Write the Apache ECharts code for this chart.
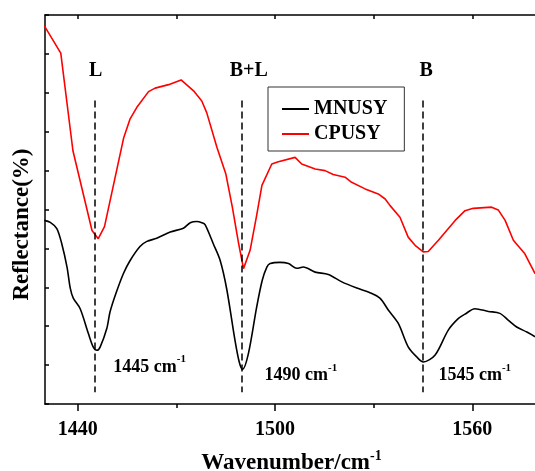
<!DOCTYPE html>
<html>
<head>
<meta charset="utf-8">
<script src="https://cdn.jsdelivr.net/npm/echarts@6/dist/echarts.min.js"></script>
<style>
  html, body { margin: 0; padding: 0; background: #fff; }
  #chart { width: 535px; height: 471px; }
</style>
</head>
<body>
<div id="chart"></div>
<script>
// Reflectance spectra, [wavenumber (cm-1), reflectance (%)]
const mnusy = [
  [1429.8, 47.2], [1431.6, 46.7], [1433.6, 45.1], [1435.1, 41.2], [1436.7, 35.2],
  [1437.7, 29.7], [1438.6, 27.2], [1440.7, 24.5], [1443.2, 18.1], [1444.7, 14.6],
  [1445.8, 13.8], [1446.8, 14.7], [1448.8, 19.4], [1449.8, 23.7], [1451.7, 28.7],
  [1453.9, 33.6], [1455.9, 36.9], [1458.9, 40.5], [1461.0, 41.8], [1464.0, 42.6],
  [1468.1, 44.2], [1472.1, 45.2], [1474.2, 46.6], [1476.2, 46.9], [1477.7, 46.6],
  [1478.7, 46.1], [1481.2, 41.2], [1483.3, 36.9], [1485.3, 29.5], [1487.8, 16.4],
  [1489.1, 10.8], [1490.1, 8.9], [1491.9, 13.0], [1494.4, 24.9], [1496.1, 31.8],
  [1497.5, 35.2], [1498.5, 36.1], [1501.5, 36.4], [1504.1, 36.1], [1506.6, 34.9],
  [1508.6, 35.2], [1512.2, 33.9], [1516.2, 33.3], [1520.3, 31.4], [1524.9, 29.8],
  [1528.9, 28.6], [1531.9, 27.2], [1534.5, 24.1], [1537.5, 20.7], [1540.5, 14.7],
  [1543.1, 12.1], [1545.1, 10.8], [1548.7, 12.6], [1552.7, 19.0], [1555.8, 22.0],
  [1557.8, 23.1], [1560.8, 24.5], [1564.9, 23.8], [1568.4, 23.3], [1571.0, 21.5],
  [1573.5, 19.8], [1576.6, 18.5], [1579.1, 17.3]
];
const cpusy = [
  [1429.8, 97.2], [1434.8, 90.2], [1438.5, 65.1], [1444.3, 44.6], [1446.2, 42.5],
  [1448.1, 45.6], [1453.9, 68.3], [1455.9, 73.3], [1457.9, 76.2], [1461.5, 80.3],
  [1463.5, 81.2], [1467.6, 82.1], [1471.4, 83.3], [1475.2, 80.5], [1477.7, 77.9],
  [1479.2, 74.9], [1482.3, 66.0], [1485.0, 59.2], [1487.0, 50.6], [1488.9, 41.3],
  [1490.4, 34.8], [1492.4, 39.5], [1494.4, 48.5], [1496.0, 56.2], [1499.0, 61.7],
  [1501.0, 62.3], [1506.1, 63.4], [1508.1, 61.7], [1512.2, 60.4], [1515.2, 60.0],
  [1517.7, 59.0], [1521.3, 58.3], [1523.3, 57.0], [1527.4, 55.3], [1531.4, 54.0],
  [1533.5, 52.7], [1535.0, 51.0], [1538.0, 48.0], [1540.5, 42.9], [1542.6, 40.8],
  [1545.1, 39.1], [1546.6, 39.2], [1549.7, 42.1], [1554.8, 47.2], [1557.8, 49.7],
  [1560.3, 50.3], [1565.9, 50.6], [1567.9, 49.9], [1570.0, 47.2], [1572.5, 42.1],
  [1576.0, 38.6], [1579.1, 33.5]
];
const seriesNames = ['MNUSY', 'CPUSY'];

// Band assignments
const bandPositions = [1445, 1490, 1545];
const bandNames = ['L', 'B+L', 'B'];

// Axis ticks
const xLabelTicks = [1440, 1500, 1560];
const xMinorTicks = [1470, 1530];
const xAllTicks = [1440, 1470, 1500, 1530, 1560];

const FONT = '"Liberation Serif", "Times New Roman", serif';
const X_MIN = 1430, X_MAX = 1580;

// annotation placement in data space
const nameY = 85.6;                 // band letters above the dashed guides
const nameX = [1445.4, 1492, 1546];
const guideTop = 78, guideBottom = 3;
const wavenumberLabelPos = [[1450.8, 10.0], [1496.8, 7.9], [1549.7, 7.9]];

const chart = echarts.init(document.getElementById('chart'), null, { renderer: 'canvas' });

const supRich = {
  n: { fontFamily: FONT, fontWeight: 'bold', fontSize: 18, color: '#000', lineHeight: 22, verticalAlign: 'bottom' },
  s: { fontFamily: FONT, fontWeight: 'bold', fontSize: 11, color: '#000', lineHeight: 22, verticalAlign: 'top', padding: [0, 0, 8, 0] }
};

const option = {
  animation: false,
  backgroundColor: '#fff',
  grid: { left: 45, top: 15, right: -3, bottom: 67, containLabel: false, outerBoundsMode: 'none' },
  legend: {
    orient: 'vertical',
    left: 268,
    top: 87,
    data: seriesNames,
    icon: 'rect',
    itemWidth: 27,
    itemHeight: 2,
    itemGap: 5,
    padding: [12, 17, 7, 14],
    borderColor: '#333',
    borderWidth: 1,
    textStyle: { fontFamily: FONT, fontWeight: 'bold', fontSize: 20, color: '#000' }
  },
  xAxis: [
    {
      type: 'value', position: 'bottom', min: X_MIN, max: X_MAX,
      axisLine: { show: true, lineStyle: { color: '#000', width: 1.5 } },
      axisTick: { show: true, inside: false, length: 7, customValues: xLabelTicks, lineStyle: { color: '#000', width: 1.5 } },
      axisLabel: {
        show: true, customValues: xLabelTicks, margin: 16, formatter: v => String(v),
        fontFamily: FONT, fontWeight: 'bold', fontSize: 20, color: '#000'
      },
      splitLine: { show: false },
      name: '{n|Wavenumber/cm}{s|-1}',
      nameLocation: 'middle',
      nameGap: 45,
      nameTextStyle: {
        rich: {
          n: { fontFamily: FONT, fontWeight: 'bold', fontSize: 23, color: '#000', lineHeight: 26, verticalAlign: 'bottom' },
          s: { fontFamily: FONT, fontWeight: 'bold', fontSize: 14, color: '#000', lineHeight: 26, verticalAlign: 'top', padding: [0, 0, 8, 0] }
        }
      }
    },
    {
      type: 'value', position: 'bottom', min: X_MIN, max: X_MAX,
      axisLine: { show: false },
      axisTick: { show: true, inside: false, length: 4, customValues: xMinorTicks, lineStyle: { color: '#000', width: 1.5 } },
      axisLabel: { show: false },
      splitLine: { show: false }
    },
    {
      type: 'value', position: 'top', min: X_MIN, max: X_MAX,
      axisLine: { show: true, lineStyle: { color: '#000', width: 1.5 } },
      axisTick: { show: true, inside: true, length: 4, customValues: xAllTicks, lineStyle: { color: '#000', width: 1.5 } },
      axisLabel: { show: false },
      splitLine: { show: false }
    }
  ],
  yAxis: {
    type: 'value', min: 0, max: 100, interval: 10,
    axisLine: { show: true, lineStyle: { color: '#000', width: 1.5 } },
    axisTick: { show: true, inside: true, length: 4, lineStyle: { color: '#000', width: 1.5 } },
    axisLabel: { show: false },
    splitLine: { show: false },
    name: 'Reflectance(%)',
    nameLocation: 'middle',
    nameRotate: 90,
    nameGap: 11,
    nameTextStyle: { fontFamily: FONT, fontWeight: 'bold', fontSize: 23, color: '#000', padding: [0, 30, 0, 0] }
  },
  series: [
    {
      name: seriesNames[0],
      type: 'line',
      xAxisIndex: 0,
      data: mnusy,
      showSymbol: false,
      symbol: 'none',
      smooth: 0.3,
      lineStyle: { color: '#000', width: 1.6 },
      itemStyle: { color: '#000' },
      silent: true,
      markLine: {
        silent: true,
        symbol: ['none', 'none'],
        label: { show: false },
        lineStyle: { color: '#000', width: 1.5, type: [7, 4] },
        data: bandPositions.map(b => [{ coord: [b, guideTop] }, { coord: [b, guideBottom] }])
      },
      markPoint: {
        silent: true,
        symbol: 'circle',
        symbolSize: 0,
        data: bandNames.map((name, i) => ({
          name: name,
          coord: [nameX[i], nameY],
          label: {
            show: true, position: [0, 0], align: 'center', verticalAlign: 'middle',
            formatter: '{b}', fontFamily: FONT, fontWeight: 'bold', fontSize: 20, color: '#000'
          }
        })).concat(bandPositions.map((b, i) => ({
          name: String(b),
          coord: wavenumberLabelPos[i],
          label: {
            show: true, position: [0, 0], align: 'left', verticalAlign: 'middle',
            formatter: '{n|' + b + ' cm}{s|-1}', rich: supRich
          }
        })))
      }
    },
    {
      name: seriesNames[1],
      type: 'line',
      xAxisIndex: 0,
      data: cpusy,
      showSymbol: false,
      symbol: 'none',
      smooth: false,
      lineStyle: { color: '#ff0000', width: 1.6 },
      itemStyle: { color: '#ff0000' },
      silent: true
    }
  ]
};

chart.setOption(option);
</script>
</body>
</html>
